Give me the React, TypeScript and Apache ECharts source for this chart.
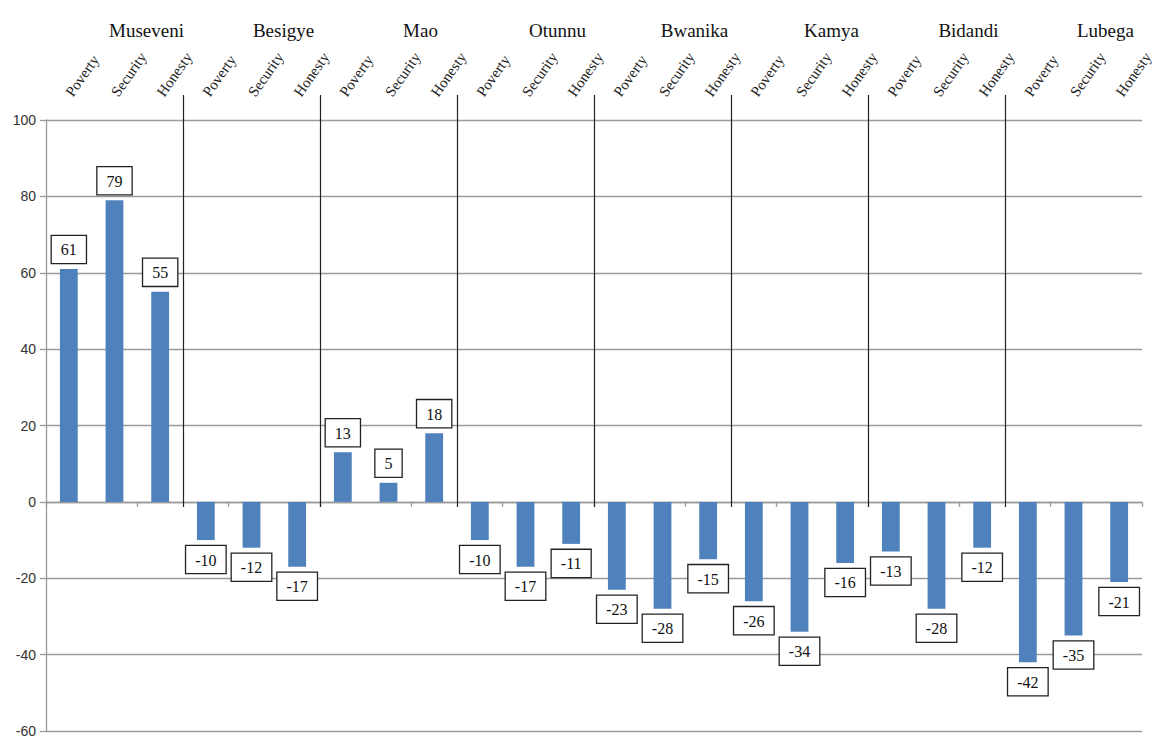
import React, { useEffect, useRef } from "react";
import * as echarts from "echarts";

// Candidates and the three issues each one was rated on
const candidates = ["Museveni", "Besigye", "Mao", "Otunnu", "Bwanika", "Kamya", "Bidandi", "Lubega"];
const issues = ["Poverty", "Security", "Honesty"];

// Net rating per candidate, in issue order
const museveni = [61, 79, 55];
const besigye = [-10, -12, -17];
const mao = [13, 5, 18];
const otunnu = [-10, -17, -11];
const bwanika = [-23, -28, -15];
const kamya = [-26, -34, -16];
const bidandi = [-13, -28, -12];
const lubega = [-42, -35, -21];

const yTicks = { min: -60, max: 100, interval: 20 };

const BAR = "#4f81bd";
const SERIF = "'Liberation Serif', 'DejaVu Serif', serif";
const SANS = "'Liberation Sans', Arial, sans-serif";

export default function App() {
  const ref = useRef<HTMLDivElement>(null);

  useEffect(() => {
    if (!ref.current) return;
    const chart = echarts.init(ref.current, null, { renderer: "svg" });

    const groups = [museveni, besigye, mao, otunnu, bwanika, kamya, bidandi, lubega];
    const categories: string[] = [];
    const values: number[] = [];
    groups.forEach((g) => {
      g.forEach((v, i) => {
        categories.push(issues[i]);
        values.push(v);
      });
    });
    // group boundaries (category index where each new candidate starts)
    const boundaries = candidates.slice(1).map((_, i) => [(i + 1) * issues.length, 0]);

    const barData = values.map((v) => ({
      value: v,
      label: { position: v < 0 ? "bottom" : "top" },
    }));

    chart.setOption({
      animation: false,
      backgroundColor: "#ffffff",
      grid: { left: 46, right: 18, top: 120, bottom: 9, containLabel: false },
      xAxis: [
        {
          type: "category",
          data: categories,
          position: "bottom",
          axisLine: { onZero: true, lineStyle: { color: "#9a9a9a", width: 1.3 } },
          axisTick: { show: true, length: 5, lineStyle: { color: "#9a9a9a", width: 1.3 } },
          axisLabel: { show: false },
          splitLine: { show: false },
        },
        {
          type: "category",
          data: categories,
          position: "top",
          axisLine: { show: false, onZero: false },
          axisTick: { show: false },
          axisLabel: {
            interval: 0,
            rotate: -55,
            margin: 25,
            fontFamily: SERIF,
            fontSize: 15,
            color: "#222",
          },
          splitLine: { show: false },
        },
        {
          type: "category",
          data: candidates,
          position: "top",
          axisLine: { show: false, onZero: false },
          axisTick: { show: false },
          axisLabel: {
            interval: 0,
            margin: 80,
            padding: [0, 0, 0, 64],
            fontFamily: SERIF,
            fontSize: 19,
            color: "#111",
          },
          splitLine: { show: false },
        },
      ],
      yAxis: {
        type: "value",
        min: yTicks.min,
        max: yTicks.max,
        interval: yTicks.interval,
        axisLine: { show: true, lineStyle: { color: "#9a9a9a", width: 1.3 } },
        axisTick: { show: true, length: 6, lineStyle: { color: "#9a9a9a", width: 1.3 } },
        axisLabel: { fontFamily: SANS, fontSize: 14, color: "#333", margin: 10 },
        splitLine: { show: true, lineStyle: { color: "#9a9a9a", width: 1.3 } },
      },
      series: [
        {
          type: "bar",
          xAxisIndex: 0,
          yAxisIndex: 0,
          data: barData,
          barWidth: "39%",
          itemStyle: { color: BAR },
          label: {
            show: true,
            distance: 6,
            fontFamily: SERIF,
            fontSize: 16,
            lineHeight: 18,
            color: "#111",
            backgroundColor: "#fff",
            borderColor: "#222",
            borderWidth: 1.3,
            padding: [5, 9, 4, 9],
          },
          z: 3,
        },
        {
          // vertical dividers between candidate groups
          type: "custom",
          xAxisIndex: 0,
          yAxisIndex: 0,
          clip: false,
          silent: true,
          data: boundaries,
          renderItem: (params: any, api: any) => {
            const idx = api.value(0);
            const base = api.coord([idx, 0]);
            const top = api.coord([idx, yTicks.max]);
            const band = api.size([1, 0])[0];
            const x = Math.round(base[0] - band / 2) + 0.5;
            return {
              type: "line",
              shape: { x1: x, y1: top[1] - 25, x2: x, y2: base[1] + 5 },
              style: { stroke: "#222", lineWidth: 1.2 },
            };
          },
          z: 2,
        },
      ],
    });

    return () => chart.dispose();
  }, []);

  return (
    <div
      ref={ref}
      style={{ position: "fixed", left: 0, top: 0, width: 1160, height: 740, background: "#fff" }}
    />
  );
}
